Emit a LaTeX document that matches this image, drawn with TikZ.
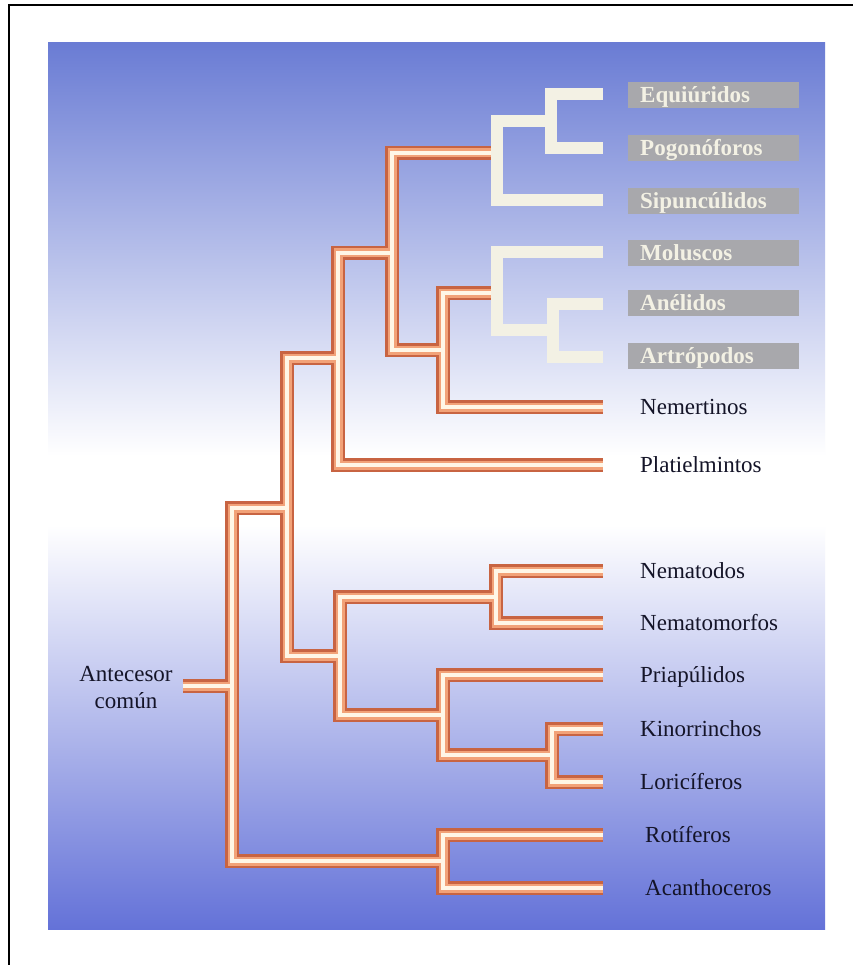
\documentclass[tikz,border=0pt]{standalone}
\usepackage{fontspec}
\setmainfont{Liberation Serif}
\definecolor{btop}{RGB}{106,124,212}
\definecolor{bbot}{RGB}{100,114,216}
\definecolor{tubeout}{RGB}{200,100,66}
\definecolor{tubemid}{RGB}{242,162,120}
\definecolor{tubein}{RGB}{255,246,230}
\definecolor{cream}{RGB}{243,241,228}
\definecolor{boxgrey}{RGB}{168,168,172}
\definecolor{ink}{RGB}{20,20,40}
\pgfdeclareverticalshading{bgshade}{100bp}{color(0bp)=(bbot); color(25bp)=(bbot); color(47.8bp)=(white); color(51.7bp)=(white); color(75bp)=(btop); color(100bp)=(btop)}
\tikzset{
 tubeA/.style={line width=14, draw=tubeout, line join=miter},
 tubeB/.style={line width=9, draw=tubemid, line join=miter},
 tubeC/.style={line width=4, draw=tubein, line join=miter},
 wline/.style={line width=12, draw=cream, line join=miter},
 leaf/.style={anchor=west, inner sep=0, text height=15, text depth=0, text=ink, font=\fontsize{23}{27}\selectfont},
 hilab/.style={anchor=west, fill=boxgrey, inner xsep=12, inner ysep=0, text width=147, minimum height=26, text height=15, text depth=0, text=cream, font=\bfseries\fontsize{23}{27}\selectfont, align=left}
}
\newcommand\orangeedges[1]{%
 \draw[#1] (r0) -- (R);
 \draw[#1] (R) |- (N4);
 \draw[#1] (R) |- (N9);
 \draw[#1] (N4) |- (N3);
 \draw[#1] (N4) |- (N5);
 \draw[#1] (N3) |- (N1);
 \draw[#1] (N3) |- (L8);
 \draw[#1] (N1) |- (W1);
 \draw[#1] (N1) |- (N2);
 \draw[#1] (N2) |- (W2);
 \draw[#1] (N2) |- (L7);
 \draw[#1] (N5) |- (N6);
 \draw[#1] (N5) |- (N7);
 \draw[#1] (N6) |- (L9);
 \draw[#1] (N6) |- (L10);
 \draw[#1] (N7) |- (L11);
 \draw[#1] (N7) |- (N8);
 \draw[#1] (N8) |- (L12);
 \draw[#1] (N8) |- (L13);
 \draw[#1] (N9) |- (L14);
 \draw[#1] (N9) |- (L15);
}
\begin{document}
\begin{tikzpicture}[x=1pt,y=-1pt]
\useasboundingbox (0,0) rectangle (853,965);
\fill[white] (0,0) rectangle (853,965);
\shade[shading=bgshade] (48,43) rectangle (825,929);
\draw[line width=2, black] (9,965) -- (9,5) -- (853,5);
% leaves
\coordinate (L1) at (603,94);
\coordinate (L2) at (603,148);
\coordinate (L3) at (603,200);
\coordinate (L4) at (603,252);
\coordinate (L5) at (603,304);
\coordinate (L6) at (603,357);
\coordinate (L7) at (603,407);
\coordinate (L8) at (603,465);
\coordinate (L9) at (603,571);
\coordinate (L10) at (603,623);
\coordinate (L11) at (603,675);
\coordinate (L12) at (603,729);
\coordinate (L13) at (603,782);
\coordinate (L14) at (603,835);
\coordinate (L15) at (603,888);
% internal nodes
\coordinate (WEP) at (551,121);
\coordinate (W1) at (497,153);
\coordinate (WAA) at (553,330);
\coordinate (W2) at (497,293);
\coordinate (N2) at (443,350);
\coordinate (N1) at (392,253);
\coordinate (N3) at (338,358);
\coordinate (N6) at (496,597);
\coordinate (N8) at (552,755);
\coordinate (N7) at (443,715);
\coordinate (N5) at (340,656);
\coordinate (N4) at (287,508);
\coordinate (N9) at (443,861);
\coordinate (R) at (232,686);
\coordinate (r0) at (183,686);
% orange tubes in three passes
\orangeedges{tubeA}
\orangeedges{tubeB}
\orangeedges{tubeC}
% white branches
\draw[wline] (W1) |- (WEP);
\draw[wline] (W1) |- (L3);
\draw[wline] (WEP) |- (L1);
\draw[wline] (WEP) |- (L2);
\draw[wline] (W2) |- (L4);
\draw[wline] (W2) |- (WAA);
\draw[wline] (WAA) |- (L5);
\draw[wline] (WAA) |- (L6);
% labels
\node[hilab] (t1) at (628,95) {Equiúridos};
\node[hilab] (t2) at (628,148) {Pogonóforos};
\node[hilab] (t3) at (628,201) {Sipuncúlidos};
\node[hilab] (t4) at (628,253) {Moluscos};
\node[hilab] (t5) at (628,303) {Anélidos};
\node[hilab] (t6) at (628,356) {Artrópodos};
\node[leaf] (t7) at (640,407) {Nemertinos};
\node[leaf] (t8) at (640,465) {Platielmintos};
\node[leaf] (t9) at (640,571) {Nematodos};
\node[leaf] (t10) at (640,623) {Nematomorfos};
\node[leaf] (t11) at (640,675) {Priapúlidos};
\node[leaf] (t12) at (640,729) {Kinorrinchos};
\node[leaf] (t13) at (640,782) {Loricíferos};
\node[leaf] (t14) at (645,835) {Rotíferos};
\node[leaf] (t15) at (645,888) {Acanthoceros};
\node[align=center, inner sep=0, text=ink, font=\fontsize{23}{27}\selectfont] (anc) at (126,688) {Antecesor\\común};
\end{tikzpicture}
\end{document}
